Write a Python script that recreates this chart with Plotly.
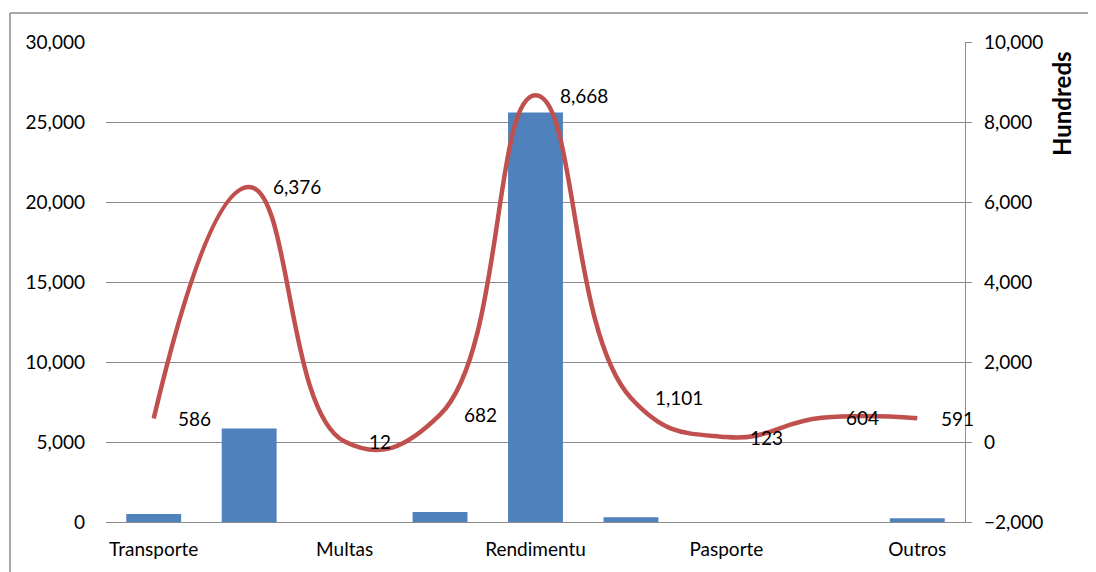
import plotly.graph_objects as go

categories = ["Transporte", "", "Multas", "", "Rendimentu", "", "Pasporte", "", "Outros"]
bar_values = [500, 5850, 0, 620, 25600, 290, 0, 0, 240]
line_values = [586, 6376, 12, 682, 8668, 1101, 123, 604, 591]
left_ticks = [0, 5000, 10000, 15000, 20000, 25000, 30000]
right_ticks = [-2000, 0, 2000, 4000, 6000, 8000, 10000]
right_title = "Hundreds"

# page has an 8px body margin; figure is placed at (8, 8) in the window
OFF = 8
W, H = 1096 - OFF, 572 - OFF
L, T = 106 - OFF, 42 - OFF
R = W - (965 - OFF)
B = H - (522 - OFF)
pw, ph = W - L - R, H - T - B

x = list(range(len(categories)))
FONT = "Lato"
FS = 19
GRID = "#8c8c8c"

fig = go.Figure()
fig.add_trace(go.Bar(x=x, y=bar_values, marker=dict(color="#4F81BD", line=dict(width=0)),
                     width=0.575, yaxis="y", showlegend=False))
fig.add_trace(go.Scatter(x=x, y=line_values, yaxis="y2", mode="lines",
                         line=dict(color="#C0504D", width=4.5, shape="spline", smoothing=1.3),
                         showlegend=False))

for xi, v in zip(x, line_values):
    fig.add_annotation(x=xi, y=v, xref="x", yref="y2", text=f"{v:,}", showarrow=False,
                       xanchor="left", yanchor="middle", xshift=22,
                       font=dict(family=FONT, size=FS, color="#000000"))

def px(xw):
    return (xw - OFF - L) / pw

def py(yw):
    return (H - B - (yw - OFF)) / ph

fig.add_annotation(x=px(1061), y=py(104), xref="paper", yref="paper", text=f"<b>{right_title}</b>",
                   textangle=-90, showarrow=False, xanchor="center", yanchor="middle",
                   font=dict(family=FONT, size=24, color="#000000"))

fig.add_shape(type="line", xref="paper", yref="paper",
              x0=px(10), x1=px(1200), y0=py(13), y1=py(13),
              line=dict(color=GRID, width=1.5), layer="below")
fig.add_shape(type="line", xref="paper", yref="paper",
              x0=px(10), x1=px(10), y0=py(13), y1=py(600),
              line=dict(color=GRID, width=1.5), layer="below")

fig.update_layout(
    width=W, height=H,
    margin=dict(l=L, r=R, t=T, b=B, pad=0, autoexpand=False),
    paper_bgcolor="white", plot_bgcolor="white",
    font=dict(family=FONT, size=FS, color="#000000"),
    xaxis=dict(range=[-0.5, len(categories) - 0.5], tickmode="array", tickvals=x, ticktext=categories,
               showgrid=False, showline=True, linecolor=GRID, linewidth=1.3, ticks="",
               zeroline=False, ticklabelstandoff=10, fixedrange=True, automargin=False),
    yaxis=dict(range=[0, 30000], tickmode="array", tickvals=left_ticks, tickformat=",",
               showgrid=True, gridcolor=GRID, gridwidth=1.3, zeroline=False, showline=False,
               ticks="", ticklabelstandoff=20, automargin=False),
    yaxis2=dict(range=[-2000, 10000], tickmode="array", tickvals=right_ticks, tickformat=",",
                overlaying="y", side="right", showgrid=False, zeroline=False,
                showline=True, linecolor=GRID, linewidth=1.3, ticks="outside", ticklen=6,
                tickcolor=GRID, tickwidth=1.3, ticklabelstandoff=8, automargin=False),
)

fig.write_html("out.html")
